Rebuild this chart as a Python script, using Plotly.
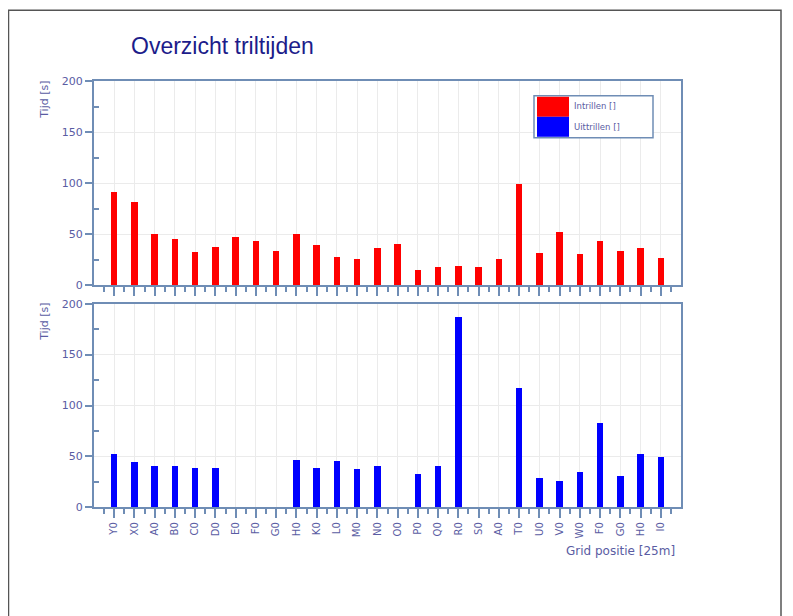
import plotly.graph_objects as go

categories = ["Y0", "X0", "A0", "B0", "C0", "D0", "E0", "F0", "G0", "H0", "K0", "L0", "M0", "N0",
              "O0", "P0", "Q0", "R0", "S0", "A0", "T0", "U0", "V0", "W0", "F0", "G0", "H0", "I0"]
intrillen = [91, 81, 50, 45, 32, 37, 47, 43, 33, 50, 39, 27, 25, 36,
             40, 15, 18, 19, 18, 25, 99, 31, 52, 30, 43, 33, 36, 26]
uittrillen = [53, 45, 41, 41, 39, 39, 0, 0, 0, 47, 39, 46, 38, 41,
              0, 33, 41, 187, 0, 0, 117, 29, 26, 35, 83, 31, 53, 50]
y_ticks = [0, 50, 100, 150, 200]

W, H = 793, 616
pos = list(range(len(categories)))

AX = "#6f8db5"
TXT = "#5a5ca3"
GRID = "#ebebeb"
FONT = "DejaVu Sans, Verdana, sans-serif"
TFONT = "Liberation Sans, Arial, sans-serif"

fig = go.Figure()
fig.add_trace(go.Bar(x=pos, y=intrillen, name="Intrillen []", marker=dict(color="#ff0000", line=dict(width=0)),
                     width=0.32, xaxis="x", yaxis="y"))
fig.add_trace(go.Bar(x=pos, y=uittrillen, name="Uittrillen []", marker=dict(color="#0000ff", line=dict(width=0)),
                     width=0.32, xaxis="x2", yaxis="y2"))

# screen-pixel -> paper fraction (compensates page offset seen in render)
def px_x(v):
    return (v - 8) / W

def px_y(v):
    return 1 - (v - 14.2) / (0.979 * H)

xdom = [px_x(94), px_x(681)]
xcommon = dict(range=[-1, 28], domain=xdom, tickmode="array", tickvals=pos, showgrid=True,
               gridcolor=GRID, gridwidth=1, showline=True, linecolor=AX, linewidth=2, mirror=True,
               ticks="outside", ticklen=9, tickcolor=AX, tickwidth=2, zeroline=False,
               minor=dict(tickmode="array", tickvals=[p + 0.5 for p in range(-1, 28)], ticks="outside",
                          ticklen=5, tickcolor=AX, tickwidth=1.5, showgrid=False),
               tickangle=-90, tickfont=dict(family=FONT, size=10, color=TXT), fixedrange=True)
ycommon = dict(range=[0, 200], tickmode="array", tickvals=y_ticks, showgrid=True, gridcolor=GRID,
               gridwidth=1, showline=True, linecolor=AX, linewidth=2, mirror=True, ticks="outside",
               ticklen=7, tickcolor=AX, tickwidth=2, zeroline=False,
               minor=dict(tickmode="array", tickvals=[25, 75, 125, 175], ticks="inside", ticklen=5,
                          tickcolor=AX, tickwidth=1.5, showgrid=False),
               tickfont=dict(family=FONT, size=11, color=TXT), fixedrange=True)

fig.update_layout(
    width=W, height=H,
    margin=dict(l=0, r=0, t=0, b=0),
    paper_bgcolor="white", plot_bgcolor="white",
    showlegend=False, bargap=0,
    xaxis=dict(xcommon, anchor="y", showticklabels=False),
    yaxis=dict(ycommon, domain=[px_y(285.5), px_y(81.5)], anchor="x"),
    xaxis2=dict(xcommon, anchor="y2", ticktext=categories),
    yaxis2=dict(ycommon, domain=[px_y(507.5), px_y(304)], anchor="x2"),
)
fig.layout.xaxis2.ticktext = categories

shapes = []
# outer frame
shapes.append(dict(type="rect", xref="paper", yref="paper", x0=px_x(8.5), x1=px_x(781), y0=px_y(660), y1=px_y(10.5),
                   line=dict(color="#555555", width=1.5), fillcolor="rgba(0,0,0,0)", layer="below"))
# legend box
shapes.append(dict(type="rect", xref="paper", yref="paper", x0=px_x(534), x1=px_x(653), y0=px_y(138), y1=px_y(96),
                   line=dict(color=AX, width=1.5), fillcolor="white", layer="above"))
shapes.append(dict(type="rect", xref="paper", yref="paper", x0=px_x(537), x1=px_x(569), y0=px_y(117), y1=px_y(97),
                   line=dict(width=0), fillcolor="#ff0000", layer="above"))
shapes.append(dict(type="rect", xref="paper", yref="paper", x0=px_x(537), x1=px_x(569), y0=px_y(137), y1=px_y(117),
                   line=dict(width=0), fillcolor="#0000ff", layer="above"))
fig.update_layout(shapes=shapes)

ann = [
    dict(text="Overzicht triltijden", x=px_x(129), y=px_y(46), xanchor="left", yanchor="middle",
         font=dict(family=TFONT, size=23, color="#1c1c8a")),
    dict(text="Intrillen []", x=px_x(572), y=px_y(106.5), xanchor="left", yanchor="middle",
         font=dict(family=FONT, size=8.5, color=TXT)),
    dict(text="Uittrillen []", x=px_x(572), y=px_y(127.5), xanchor="left", yanchor="middle",
         font=dict(family=FONT, size=8.5, color=TXT)),
    dict(text="Tijd [s]", x=px_x(45), y=px_y(79), xanchor="center", yanchor="top", textangle=-90,
         font=dict(family=FONT, size=11, color=TXT)),
    dict(text="Tijd [s]", x=px_x(45), y=px_y(301), xanchor="center", yanchor="top", textangle=-90,
         font=dict(family=FONT, size=11, color=TXT)),
    dict(text="Grid positie [25m]", x=px_x(677), y=px_y(551), xanchor="right", yanchor="middle",
         font=dict(family=FONT, size=12, color=TXT)),
]
for a in ann:
    a.update(xref="paper", yref="paper", showarrow=False)
fig.update_layout(annotations=ann)

fig.write_html("out.html")
